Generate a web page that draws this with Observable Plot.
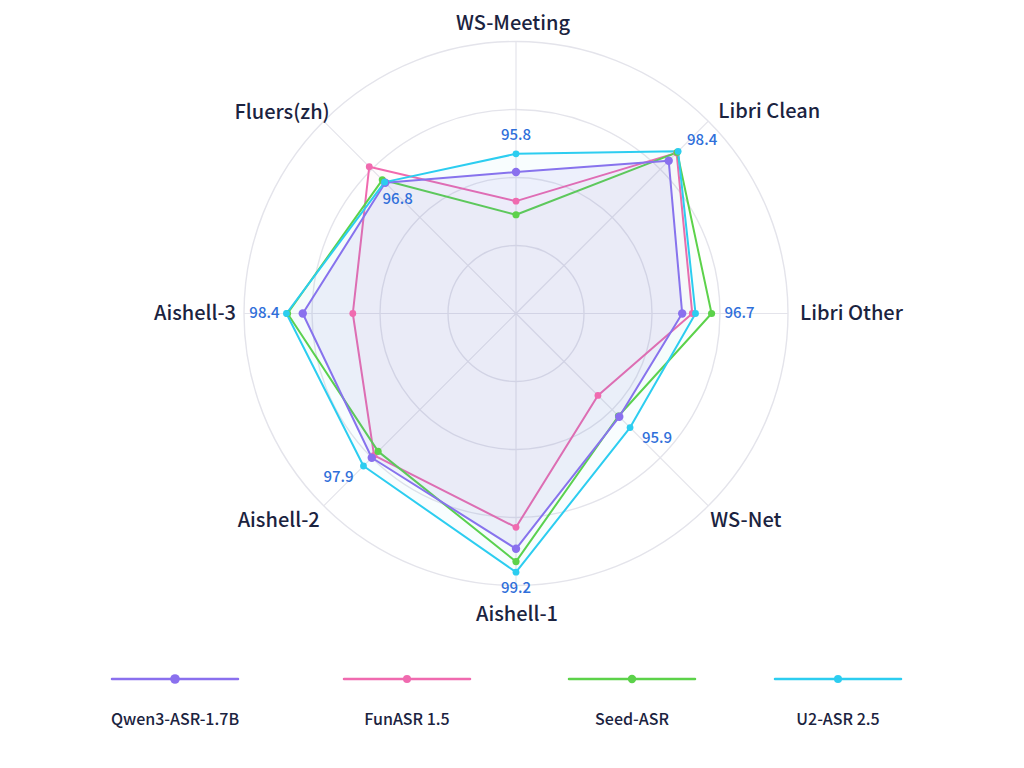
<!DOCTYPE html>
<html>
<head>
<meta charset="utf-8">
<script src="https://cdn.jsdelivr.net/npm/d3@7"></script>
<script src="https://cdn.jsdelivr.net/npm/@observablehq/plot@0.6"></script>
<style>
  html, body { margin: 0; padding: 0; background: #ffffff; }
  body { width: 1024px; height: 768px; overflow: hidden; font-family: "Noto Sans CJK SC", "Noto Sans", sans-serif; }
  #legend { position: relative; width: 1024px; height: 128px; }
  .item { position: absolute; top: 0; width: 130px; text-align: center; }
  .item svg { position: absolute; top: 32px; left: 0; }
  .item span { position: absolute; top: 66px; left: -40px; width: 210px; text-align: center; font-size: 16px; font-weight: 500; color: #1b2340; }
</style>
</head>
<body>
<div id="chart"></div>
<div id="legend"></div>
<script>
// ---- data ----
const axes = ["WS-Meeting", "Libri Clean", "Libri Other", "WS-Net", "Aishell-1", "Aishell-2", "Aishell-3", "Fluers(zh)"];
const axisValueLabels = ["95.8", "98.4", "96.7", "95.9", "99.2", "97.9", "98.4", "96.8"];
const seriesNames = ["Qwen3-ASR-1.7B", "FunASR 1.5", "Seed-ASR", "U2-ASR 2.5"];
// normalized radial position (0 = centre, 1 = outer ring)
const qwen = [0.520, 0.794, 0.611, 0.537, 0.865, 0.750, 0.784, 0.680];
const funasr = [0.413, 0.835, 0.648, 0.426, 0.786, 0.738, 0.600, 0.763];
const seed = [0.363, 0.838, 0.719, 0.533, 0.912, 0.717, 0.840, 0.695];
const u2 = [0.587, 0.843, 0.660, 0.593, 0.951, 0.793, 0.844, 0.683];
const rings = [0.25, 0.5, 0.75, 1.0];

// ---- styles / layout ----
const colors = ["#8a70ee", "#f06aaf", "#5cd24a", "#2ccdf0"];
const fillOp = [0.09, 0.025, 0.015, 0.035];
const dotR = [4.2, 3.4, 3.6, 3.4];
const drawOrder = [1, 2, 0, 3];
const labelLayout = [
  {anchor: "middle", dx: -3, dy: -18},
  {anchor: "start", dx: 10, dy: -10},
  {anchor: "start", dx: 12, dy: 0},
  {anchor: "start", dx: 2, dy: 15},
  {anchor: "middle", dx: 1, dy: 29},
  {anchor: "end", dx: -4, dy: 15},
  {anchor: "end", dx: -8, dy: 0},
  {anchor: "end", dx: 6, dy: -9}
];
const valueLayout = [
  {dx: 0, dy: -19}, {dx: 24, dy: -11}, {dx: 44, dy: 0}, {dx: 27, dy: 11},
  {dx: 0, dy: 16}, {dx: -25, dy: 11}, {dx: -22, dy: 0}, {dx: 13, dy: 17}
];

const W = 1024, H = 640, R = 272, cx = 515.5, cy = 313;
const n = axes.length;
const ang = i => i * 2 * Math.PI / n;
const px = (v, i) => v * Math.sin(ang(i));
const py = (v, i) => v * Math.cos(ang(i));

const allSeries = [qwen, funasr, seed, u2];
const rows = [];
allSeries.forEach((vals, s) => vals.forEach((v, i) => rows.push({s, i, axis: axes[i], v, x: px(v, i), y: py(v, i)})));

const marks = [];
// rings
marks.push(Plot.dot(rings, {x: () => 0, y: () => 0, r: d => d, fill: "none", stroke: "#e4e4eb", strokeWidth: 1.4}));
// spokes
marks.push(Plot.link(axes, {x1: () => 0, y1: () => 0, x2: (d, i) => px(1, i), y2: (d, i) => py(1, i), stroke: "#e4e4eb", strokeWidth: 1.2}));
// polygons
for (const s of drawOrder) {
  const data = rows.filter(r => r.s === s);
  marks.push(Plot.line(data, {x: "x", y: "y", curve: "linear-closed", stroke: colors[s], strokeWidth: 2, fill: colors[s], fillOpacity: fillOp[s], strokeLinejoin: "miter"}));
}
for (const s of drawOrder) {
  const data = rows.filter(r => r.s === s);
  marks.push(Plot.dot(data, {x: "x", y: "y", r: dotR[s], fill: colors[s], stroke: "none"}));
}
// value labels (U2-ASR values)
axes.forEach((a, i) => {
  marks.push(Plot.text([a], {x: () => px(u2[i], i), y: () => py(u2[i], i), text: () => axisValueLabels[i], dx: valueLayout[i].dx, dy: valueLayout[i].dy, fill: "#2f6fda", fontSize: 15, fontWeight: 500, textAnchor: "middle", fontFamily: "Noto Sans CJK SC"}));
});
// axis labels
axes.forEach((a, i) => {
  const L = labelLayout[i];
  marks.push(Plot.text([a], {x: () => px(1, i), y: () => py(1, i), text: d => d, dx: L.dx, dy: L.dy, textAnchor: L.anchor, fill: "#1b2340", fontSize: 20, fontWeight: 500, fontFamily: "Noto Sans CJK SC"}));
});

const chart = Plot.plot({
  width: W, height: H,
  marginTop: 0, marginRight: 0, marginBottom: 0, marginLeft: 0,
  x: {domain: [-cx / R, (W - cx) / R], range: [0, W], axis: null},
  y: {domain: [-(H - cy) / R, cy / R], range: [H, 0], axis: null},
  r: {type: "linear", domain: [0, 1], range: [0, R]},
  style: {background: "#ffffff", fontFamily: "Noto Sans CJK SC"},
  marks
});
document.getElementById("chart").appendChild(chart);

// legend
const legendCenters = [175, 407, 632, 838];
const leg = document.getElementById("legend");
seriesNames.forEach((name, s) => {
  const div = document.createElement("div");
  div.className = "item";
  div.style.left = (legendCenters[s] - 65) + "px";
  div.innerHTML = `<svg width="130" height="14"><line x1="2" y1="7" x2="128" y2="7" stroke="${colors[s]}" stroke-width="2.5" stroke-linecap="round"/><circle cx="65" cy="7" r="${dotR[s] + 0.6}" fill="${colors[s]}"/></svg><span>${name}</span>`;
  leg.appendChild(div);
});
</script>
</body>
</html>
